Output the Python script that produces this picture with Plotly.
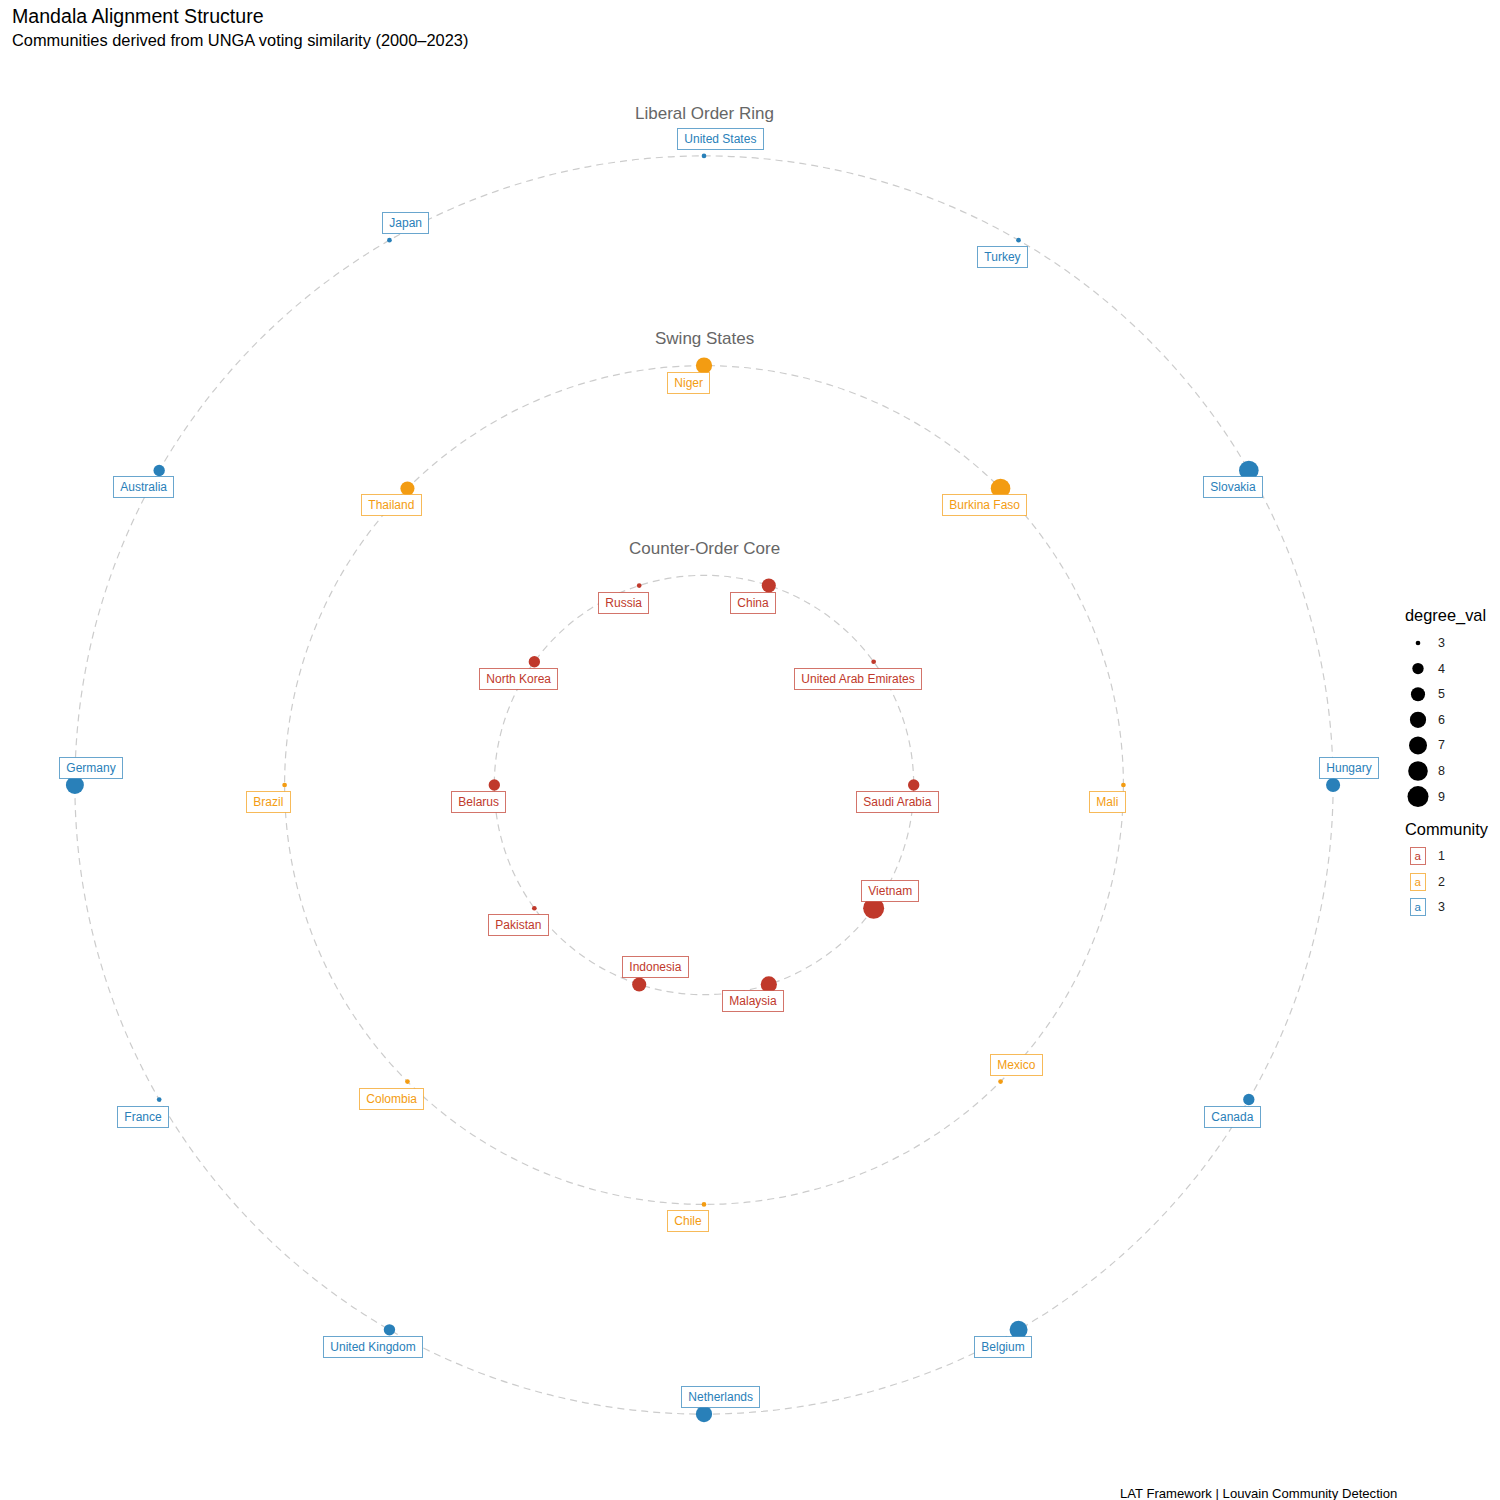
import math
import plotly.graph_objects as go

# ---------------- data ----------------
inner_countries = ["China", "United Arab Emirates", "Saudi Arabia", "Vietnam", "Malaysia",
                   "Indonesia", "Pakistan", "Belarus", "North Korea", "Russia"]
inner_degree = [5, 3, 4, 9, 6, 5, 3, 4, 4, 3]

middle_countries = ["Niger", "Burkina Faso", "Mali", "Mexico", "Chile", "Colombia", "Brazil", "Thailand"]
middle_degree = [6, 8, 3, 3, 3, 3, 3, 5]

outer_countries = ["United States", "Turkey", "Slovakia", "Hungary", "Canada", "Belgium",
                   "Netherlands", "United Kingdom", "France", "Germany", "Australia", "Japan"]
outer_degree = [3, 3, 8, 5, 4, 7, 6, 4, 3, 7, 4, 3]

ring_names = ["Counter-Order Core", "Swing States", "Liberal Order Ring"]
ring_community = [1, 2, 3]

degree_levels = [3, 4, 5, 6, 7, 8, 9]
community_levels = [1, 2, 3]

title = "Mandala Alignment Structure"
subtitle = "Communities derived from UNGA voting similarity (2000\u20132023)"
caption = "LAT Framework | Louvain Community Detection"

# ---------------- style ----------------
W = H = 1500
FONT = "Liberation Sans, Arial, sans-serif"
colors = {1: "#C0392B", 2: "#F39C12", 3: "#2980B9"}
border_colors = {1: "rgba(192,57,43,0.7)", 2: "rgba(243,156,18,0.7)", 3: "rgba(41,128,185,0.7)"}
ring_rotation_deg = [18, 0, 0]          # angular start of each ring (clockwise from top)
ring_title_gap = [0.13, 0.13, 0.20]     # data units above ring
labels_up_right = {"United States", "Japan", "Hungary", "Netherlands", "Germany",
                   "Mexico", "Vietnam", "Indonesia"}

CX, CY = 704, 785          # pixel centre of mandala
HALF = 700                 # half plot size in px
SCALE = 209.7              # px per data unit
R = HALF / SCALE


def size_px(v):
    return 4.7 + 16.3 * math.sqrt((v - min(degree_levels)) / (max(degree_levels) - min(degree_levels)))


rings = [(inner_countries, inner_degree), (middle_countries, middle_degree), (outer_countries, outer_degree)]

fig = go.Figure()
annotations = []
shapes = []

for k, (names, degs) in enumerate(rings):
    radius = k + 1
    comm = ring_community[k]
    n = len(names)
    xs, ys = [], []
    for i in range(n):
        th = math.radians(ring_rotation_deg[k] + 360.0 * i / n)
        xs.append(radius * math.sin(th))
        ys.append(radius * math.cos(th))
    shapes.append(dict(type="circle", xref="x", yref="y", x0=-radius, x1=radius, y0=-radius, y1=radius,
                       line=dict(color="#cccccc", width=1.2, dash="7px,5px"), layer="below"))
    fig.add_trace(go.Scatter(x=xs, y=ys, mode="markers", showlegend=False, hoverinfo="skip",
                             marker=dict(color=colors[comm], size=[size_px(d) for d in degs],
                                         line=dict(width=0), opacity=1)))
    for name, x, y in zip(names, xs, ys):
        up = name in labels_up_right
        annotations.append(dict(x=x, y=y, xref="x", yref="y", text="\u00a0" + name + "\u00a0",
                                showarrow=False, xshift=16 if up else -16, yshift=17 if up else -17,
                                font=dict(family=FONT, size=12, color=colors[comm]),
                                bgcolor="white", bordercolor=border_colors[comm], borderwidth=1,
                                borderpad=3))
    annotations.append(dict(x=0, y=radius + ring_title_gap[k], xref="x", yref="y", text=ring_names[k],
                            showarrow=False, font=dict(family=FONT, size=17, color="#666666"),
                            yanchor="middle"))

# ---------------- legend (drawn on a pixel overlay axis) ----------------
LX, LT = 1418, 643
STEP = 25.6
fig.add_trace(go.Scatter(x=[LX] * len(degree_levels), y=[LT + STEP * i for i in range(len(degree_levels))],
                         mode="markers", xaxis="x2", yaxis="y2", showlegend=False, hoverinfo="skip",
                         marker=dict(color="#000000", opacity=1, size=[size_px(v) for v in degree_levels],
                                     line=dict(width=0))))
annotations.append(dict(x=1403, y=615, xref="x2", yref="y2", text="degree_val", showarrow=False,
                        xanchor="left", yanchor="middle", font=dict(family=FONT, size=16.4, color="black")))
for i, v in enumerate(degree_levels):
    annotations.append(dict(x=1436, y=LT + STEP * i, xref="x2", yref="y2", text=str(v), showarrow=False,
                            xanchor="left", yanchor="middle", font=dict(family=FONT, size=12.5, color="#222")))
annotations.append(dict(x=1403, y=829, xref="x2", yref="y2", text="Community", showarrow=False,
                        xanchor="left", yanchor="middle", font=dict(family=FONT, size=16.4, color="black")))
for i, c in enumerate(community_levels):
    yy = 856 + STEP * i
    annotations.append(dict(x=LX, y=yy, xref="x2", yref="y2", text="a", showarrow=False,
                            xanchor="center", yanchor="middle",
                            font=dict(family=FONT, size=11.5, color=colors[c]),
                            bgcolor="white", bordercolor=border_colors[c], borderwidth=1, borderpad=1,
                            width=12, height=14))
    annotations.append(dict(x=1436, y=yy, xref="x2", yref="y2", text=str(c), showarrow=False,
                            xanchor="left", yanchor="middle", font=dict(family=FONT, size=12.5, color="#222")))

# ---------------- titles ----------------
annotations.append(dict(x=10, y=16, xref="x2", yref="y2", text=title, showarrow=False, xanchor="left",
                        yanchor="middle", font=dict(family=FONT, size=19.6, color="black")))
annotations.append(dict(x=10, y=40, xref="x2", yref="y2", text=subtitle, showarrow=False,
                        xanchor="left", yanchor="middle", font=dict(family=FONT, size=16.4, color="black")))
annotations.append(dict(x=1399, y=1493, xref="x2", yref="y2", text=caption, showarrow=False,
                        xanchor="right", yanchor="middle", font=dict(family=FONT, size=13.1, color="black")))

x_dom = [(CX - HALF) / W, (CX + HALF) / W]
y_dom = [(H - (CY + HALF)) / H, (H - (CY - HALF)) / H]
axis_off = dict(showgrid=False, zeroline=False, showticklabels=False, showline=False, ticks="",
                fixedrange=True)

fig.update_layout(
    width=W, height=H, margin=dict(l=0, r=0, t=0, b=0),
    paper_bgcolor="white", plot_bgcolor="rgba(0,0,0,0)",
    xaxis=dict(range=[-R, R], domain=x_dom, anchor="y", **axis_off),
    yaxis=dict(range=[-R, R], domain=y_dom, anchor="x", **axis_off),
    xaxis2=dict(range=[0, W], domain=[0, 1], anchor="y2", **axis_off),
    yaxis2=dict(range=[H, 0], domain=[0, 1], anchor="x2", **axis_off),
    shapes=shapes, annotations=annotations, showlegend=False,
    font=dict(family=FONT),
)

# remove the browser's default body margin so the 1500x1500 figure fills the window exactly
fig.write_html("out.html", config={"displayModeBar": False},
               post_script="document.body.style.margin='0';")
